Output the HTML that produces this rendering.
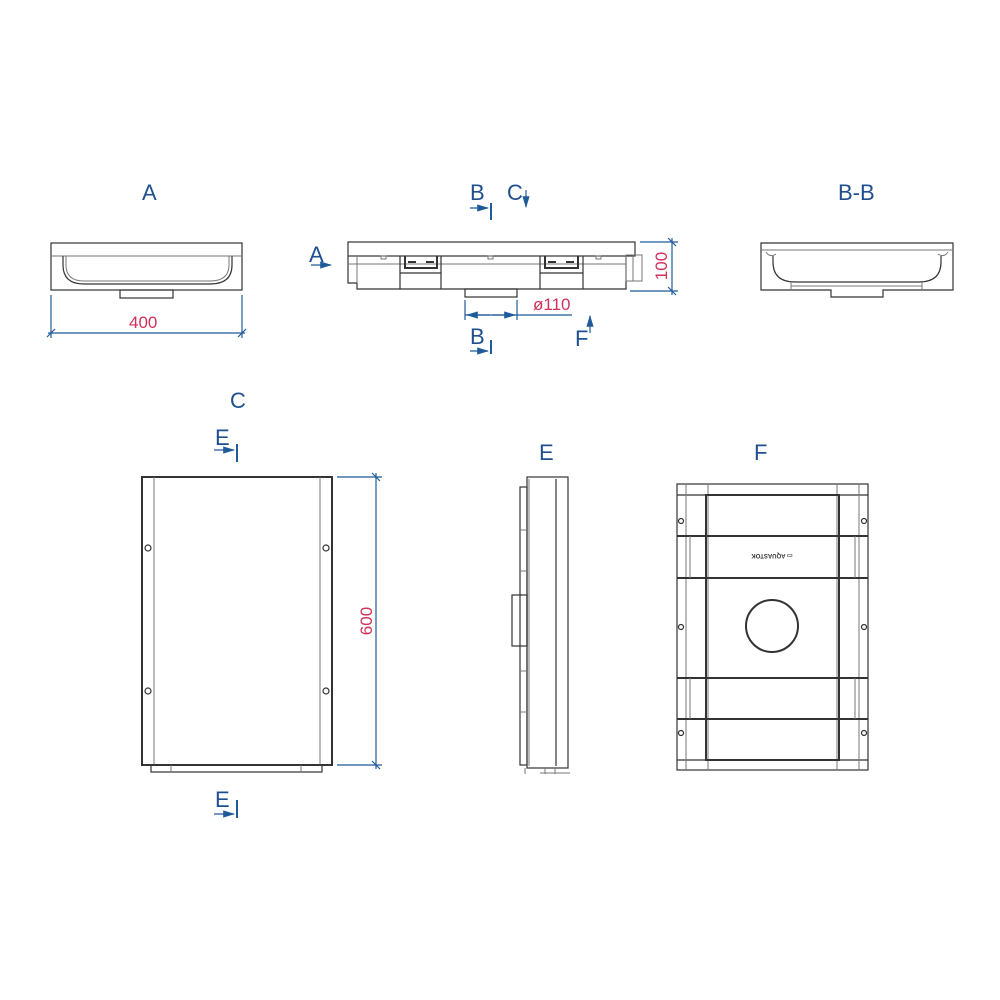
<!DOCTYPE html>
<html><head><meta charset="utf-8"><style>
html,body{margin:0;padding:0;background:#fff;}
svg{display:block;}
.b{fill:none;stroke:#333;stroke-width:1.2}
.t{fill:none;stroke:#333;stroke-width:2}
.g{fill:none;stroke:#777;stroke-width:1}
.d{fill:none;stroke:#1f5a9a;stroke-width:1.2}
.lb{font-family:"Liberation Sans",sans-serif;font-size:22px;fill:#1f4f8f}
.rd{font-family:"Liberation Sans",sans-serif;font-size:17px;fill:#d0305a}
</style></head><body>
<svg width="1000" height="1000" viewBox="0 0 1000 1000" xmlns="http://www.w3.org/2000/svg">
<defs><marker id="ar" markerWidth="10" markerHeight="6" refX="9" refY="3" orient="auto"><path d="M0,0 L10,3 L0,6z" fill="#1f5a9a"/></marker></defs>

<!-- View A -->
<text class="lb" x="142" y="200">A</text>
<rect class="b" x="51" y="243" width="191" height="47"/>
<line class="g" x1="51" y1="256" x2="242" y2="256"/>
<path class="b" d="M63,256 L63,265 Q63,284 84,284 L210,284 Q232,284 232,265 L232,256"/>
<path class="g" d="M66,256 L66,265 Q66,281 84,281 L210,281 Q229,281 229,265 L229,256"/>
<rect class="b" x="120" y="290" width="53" height="8"/>
<line class="d" x1="51" y1="295" x2="51" y2="338"/>
<line class="d" x1="242" y1="295" x2="242" y2="338"/>
<line class="d" x1="48" y1="333" x2="245" y2="333"/>
<line class="d" x1="47" y1="337" x2="55" y2="329"/>
<line class="d" x1="238" y1="337" x2="246" y2="329"/>
<text class="rd" x="129" y="328">400</text>

<!-- Side view -->
<text class="lb" x="309" y="262">A</text>
<line class="d" x1="311" y1="265" x2="331" y2="265" marker-end="url(#ar)"/>
<text class="lb" x="470" y="200">B</text>
<line class="d" x1="470" y1="208" x2="488" y2="208" marker-end="url(#ar)"/>
<line class="d" x1="491" y1="203" x2="491" y2="220" style="stroke-width:2"/>
<text class="lb" x="507" y="200">C</text>
<line class="d" x1="526" y1="190" x2="526" y2="207" marker-end="url(#ar)"/>
<rect class="b" x="348" y="242" width="287" height="14"/>
<path class="b" d="M348,256 L348,283 L357,283 L357,289 L626,289 L626,256"/>
<line class="g" x1="357" y1="256" x2="357" y2="283"/>
<line class="g" x1="348" y1="264" x2="626" y2="264"/>
<rect class="g" x="626" y="255" width="16" height="26"/>
<line class="g" x1="633" y1="255" x2="633" y2="281"/>
<line class="b" x1="400" y1="256" x2="400" y2="289"/>
<line class="b" x1="441" y1="256" x2="441" y2="289"/>
<line class="b" x1="540" y1="256" x2="540" y2="289"/>
<line class="b" x1="583" y1="256" x2="583" y2="289"/>
<line class="b" x1="400" y1="273" x2="441" y2="273"/>
<line class="b" x1="540" y1="273" x2="583" y2="273"/>
<path class="t" d="M405,256 L405,268 L437,268 L437,256"/>
<path class="t" d="M545,256 L545,268 L578,268 L578,256"/>
<line class="t" x1="408" y1="262" x2="416" y2="262"/><line class="t" x1="426" y1="262" x2="434" y2="262"/>
<line class="t" x1="548" y1="262" x2="556" y2="262"/><line class="t" x1="566" y1="262" x2="574" y2="262"/>
<rect class="g" x="381" y="256" width="5" height="3"/>
<rect class="g" x="488" y="256" width="5" height="3"/>
<rect class="g" x="596" y="256" width="5" height="3"/>
<rect class="b" x="465" y="289" width="52" height="8"/>
<line class="d" x1="465" y1="300" x2="465" y2="320"/>
<line class="d" x1="517" y1="300" x2="517" y2="320"/>
<line class="d" x1="465" y1="315" x2="572" y2="315"/>
<line class="d" x1="490" y1="315" x2="467" y2="315" marker-end="url(#ar)"/>
<line class="d" x1="492" y1="315" x2="515" y2="315" marker-end="url(#ar)"/>
<text class="rd" x="533" y="310">ø110</text>
<text class="lb" x="470" y="344">B</text>
<line class="d" x1="470" y1="351" x2="488" y2="351" marker-end="url(#ar)"/>
<line class="d" x1="491" y1="340" x2="491" y2="354" style="stroke-width:2"/>
<text class="lb" x="575" y="346">F</text>
<line class="d" x1="590" y1="333" x2="590" y2="316" marker-end="url(#ar)"/>
<line class="d" x1="640" y1="242" x2="678" y2="242"/>
<line class="d" x1="630" y1="291" x2="678" y2="291"/>
<line class="d" x1="672" y1="238" x2="672" y2="295"/>
<line class="d" x1="668" y1="238" x2="676" y2="246"/>
<line class="d" x1="668" y1="287" x2="676" y2="295"/>
<text class="rd" x="667" y="266" transform="rotate(-90 667 266)" text-anchor="middle">100</text>

<!-- B-B -->
<text class="lb" x="838" y="200">B-B</text>
<path class="b" d="M761,243 L953,243 L953,290 L883,290 L883,297 L831,297 L831,290 L761,290 Z"/>
<line class="g" x1="761" y1="250" x2="953" y2="250"/>
<path class="b" d="M773,256 L773,262 Q773,282 795,282 L919,282 Q941,282 941,262 L941,256"/>
<path class="g" d="M766,252 Q770,258 776,254 M948,252 Q944,258 938,254"/>
<line class="g" x1="791" y1="282" x2="791" y2="290"/>
<line class="g" x1="922" y1="282" x2="922" y2="290"/>
<line class="g" x1="791" y1="286" x2="922" y2="286"/>

<!-- C view -->
<text class="lb" x="230" y="408">C</text>
<text class="lb" x="215" y="445">E</text>
<line class="d" x1="214" y1="450" x2="234" y2="450" marker-end="url(#ar)"/>
<line class="d" x1="237" y1="444" x2="237" y2="462" style="stroke-width:2"/>
<rect class="t" x="142" y="477" width="190" height="288"/>
<line class="g" x1="154" y1="477" x2="154" y2="765"/>
<line class="g" x1="320" y1="477" x2="320" y2="765"/>
<circle class="b" cx="148" cy="548" r="3"/><circle class="b" cx="326" cy="548" r="3"/>
<circle class="b" cx="148" cy="691" r="3"/><circle class="b" cx="326" cy="691" r="3"/>
<rect class="b" x="151" y="765" width="171" height="7"/>
<line class="g" x1="171" y1="765" x2="171" y2="772"/><line class="g" x1="301" y1="765" x2="301" y2="772"/>
<line class="d" x1="337" y1="477" x2="382" y2="477"/>
<line class="d" x1="337" y1="765" x2="382" y2="765"/>
<line class="d" x1="376" y1="473" x2="376" y2="769"/>
<line class="d" x1="372" y1="473" x2="380" y2="481"/>
<line class="d" x1="372" y1="761" x2="380" y2="769"/>
<text class="rd" x="372" y="621" transform="rotate(-90 372 621)" text-anchor="middle">600</text>
<text class="lb" x="215" y="807">E</text>
<line class="d" x1="214" y1="814" x2="234" y2="814" marker-end="url(#ar)"/>
<line class="d" x1="237" y1="800" x2="237" y2="818" style="stroke-width:2"/>

<!-- E view -->
<text class="lb" x="539" y="460">E</text>
<rect class="b" x="527" y="477" width="41" height="291"/>
<line class="b" x1="556" y1="479" x2="556" y2="766"/>
<line class="g" x1="529" y1="479" x2="529" y2="766"/>
<rect class="b" x="520" y="487" width="7" height="278"/>
<line class="g" x1="520" y1="530" x2="527" y2="530"/>
<line class="g" x1="520" y1="571" x2="527" y2="571"/>
<line class="g" x1="520" y1="671" x2="527" y2="671"/>
<line class="g" x1="520" y1="712" x2="527" y2="712"/>
<rect class="b" x="512" y="595" width="15" height="51"/>
<line class="g" x1="525" y1="768" x2="525" y2="774"/>
<line class="g" x1="545" y1="768" x2="545" y2="774"/>
<line class="g" x1="555" y1="768" x2="555" y2="774"/>
<line class="g" x1="540" y1="773" x2="570" y2="773"/>

<!-- F view -->
<text class="lb" x="754" y="460">F</text>
<rect class="b" x="677" y="484" width="191" height="286"/>
<line class="b" x1="677" y1="495" x2="868" y2="495"/>
<line class="b" x1="677" y1="760" x2="868" y2="760"/>
<line class="g" x1="686" y1="484" x2="686" y2="770"/>
<line class="g" x1="859" y1="484" x2="859" y2="770"/>
<line class="g" x1="708" y1="484" x2="708" y2="770"/>
<line class="g" x1="837" y1="484" x2="837" y2="770"/>
<rect class="t" x="706" y="495" width="133" height="265"/>
<line class="t" x1="677" y1="536" x2="868" y2="536"/>
<line class="t" x1="677" y1="578" x2="868" y2="578"/>
<line class="t" x1="677" y1="678" x2="868" y2="678"/>
<line class="t" x1="677" y1="719" x2="868" y2="719"/>
<line class="g" x1="690" y1="536" x2="690" y2="578"/>
<line class="g" x1="855" y1="536" x2="855" y2="578"/>
<line class="g" x1="690" y1="678" x2="690" y2="719"/>
<line class="g" x1="855" y1="678" x2="855" y2="719"/>
<circle class="t" cx="772" cy="626" r="26"/>
<circle class="b" cx="681" cy="521" r="2.5"/><circle class="b" cx="864" cy="521" r="2.5"/>
<circle class="b" cx="681" cy="627" r="2.5"/><circle class="b" cx="864" cy="627" r="2.5"/>
<circle class="b" cx="681" cy="733" r="2.5"/><circle class="b" cx="864" cy="733" r="2.5"/>
<text x="772" y="558" text-anchor="middle" font-family="Liberation Sans,sans-serif" font-size="6" font-weight="bold" fill="#333" transform="rotate(180 772 556)">▭ AQUASTOK</text>
</svg>
</body></html>
